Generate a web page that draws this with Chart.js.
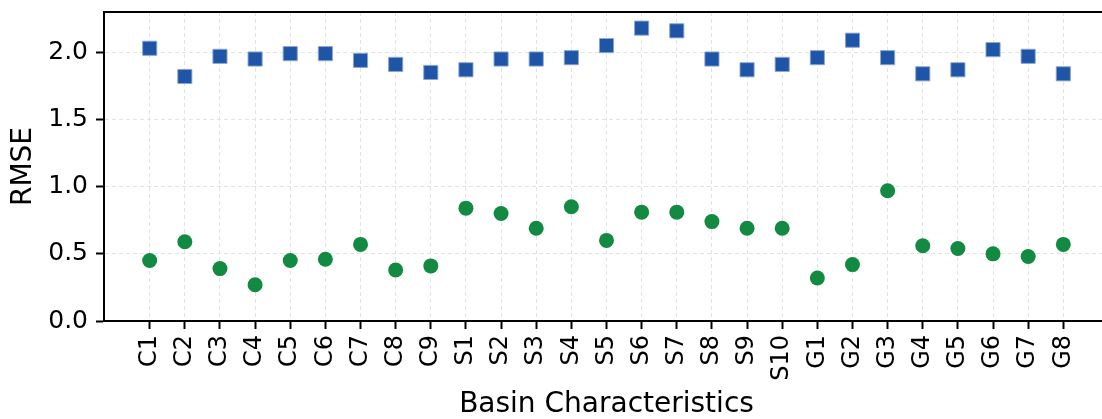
<!DOCTYPE html>
<html>
<head>
<meta charset="utf-8">
<script src="https://cdn.jsdelivr.net/npm/chart.js@4/dist/chart.umd.min.js"></script>
<style>
  html, body { margin: 0; padding: 0; background: #fff; overflow: hidden; }
  #wrap { width: 1120px; height: 419px; }
</style>
</head>
<body>
<div id="wrap"><canvas id="chart"></canvas></div>
<script>
// basin characteristic codes
var labels = ['C1','C2','C3','C4','C5','C6','C7','C8','C9',
              'S1','S2','S3','S4','S5','S6','S7','S8','S9','S10',
              'G1','G2','G3','G4','G5','G6','G7','G8'];

// upper series (squares)
var rmseSquares = [2.03, 1.82, 1.97, 1.95, 1.99, 1.99, 1.94, 1.91, 1.85,
                   1.87, 1.95, 1.95, 1.96, 2.05, 2.18, 2.16, 1.95, 1.87, 1.91,
                   1.96, 2.09, 1.96, 1.84, 1.87, 2.02, 1.97, 1.84];

// lower series (circles)
var rmseCircles = [0.45, 0.59, 0.39, 0.27, 0.45, 0.46, 0.57, 0.38, 0.41,
                   0.84, 0.80, 0.69, 0.85, 0.60, 0.81, 0.81, 0.74, 0.69, 0.69,
                   0.32, 0.42, 0.97, 0.56, 0.54, 0.50, 0.48, 0.57];

var yTicks = [0, 0.5, 1.0, 1.5, 2.0];

function toPoints(arr) {
  return arr.map(function(v, i) { return { x: i, y: v }; });
}

var font = 'DejaVu Sans';

// top/right spine
var framePlugin = {
  id: 'frame',
  afterDatasetsDraw: function(chart) {
    var a = chart.chartArea, ctx = chart.ctx;
    ctx.save();
    ctx.strokeStyle = '#000';
    ctx.lineWidth = 2;
    ctx.strokeRect(a.left, a.top, a.right - a.left, a.bottom - a.top);
    ctx.restore();
  }
};

new Chart(document.getElementById('chart'), {
  type: 'scatter',
  data: {
    datasets: [{
      data: toPoints(rmseSquares),
      pointStyle: 'rect',
      pointRadius: 10,
      backgroundColor: '#1f55a6',
      borderColor: 'rgba(140,165,210,0.9)',
      borderWidth: 1
    }, {
      data: toPoints(rmseCircles),
      pointStyle: 'circle',
      pointRadius: 7.5,
      backgroundColor: '#128a42',
      borderColor: '#128a42',
      borderWidth: 0
    }]
  },
  plugins: [framePlugin],
  options: {
    responsive: true,
    maintainAspectRatio: false,
    animation: false,
    layout: { padding: { top: 12, right: 5, left: 0, bottom: 0 } },
    plugins: { legend: { display: false }, tooltip: { enabled: false } },
    scales: {
      x: {
        type: 'linear',
        min: -1.3,
        max: 27.3,
        afterBuildTicks: function(scale) {
          scale.ticks = labels.map(function(_, i) { return { value: i }; });
        },
        afterFit: function(scale) { scale.height = 98; },
        ticks: {
          callback: function(v) { return labels[v]; },
          minRotation: 90,
          maxRotation: 90,
          autoSkip: false,
          color: '#000',
          padding: 6,
          font: { family: font, size: 24 }
        },
        grid: {
          color: '#e3e3e3',
          lineWidth: 1,
          tickColor: '#000',
          tickWidth: 2,
          tickLength: 8
        },
        border: { color: '#000', width: 2, dash: [4, 3] },
        title: {
          display: true,
          text: 'Basin Characteristics',
          color: '#000',
          padding: { top: 0, bottom: 0 },
          font: { family: font, size: 28, lineHeight: 1 }
        }
      },
      y: {
        min: 0,
        max: 2.3,
        afterBuildTicks: function(scale) {
          scale.ticks = yTicks.map(function(v) { return { value: v }; });
        },
        afterFit: function(scale) {
          scale.width = 104;
          scale.paddingTop = 0;
          scale.paddingBottom = 0;
        },
        ticks: {
          callback: function(v) { return v.toFixed(1); },
          color: '#000',
          padding: 8,
          font: { family: font, size: 25 }
        },
        grid: {
          color: '#e3e3e3',
          lineWidth: 1,
          tickColor: '#000',
          tickWidth: 2,
          tickLength: 8
        },
        border: { color: '#000', width: 2, dash: [4, 3] },
        title: {
          display: true,
          text: 'RMSE',
          color: '#000',
          padding: { top: 10, bottom: 0 },
          font: { family: font, size: 28, lineHeight: 1 }
        }
      }
    }
  }
});
</script>
</body>
</html>
